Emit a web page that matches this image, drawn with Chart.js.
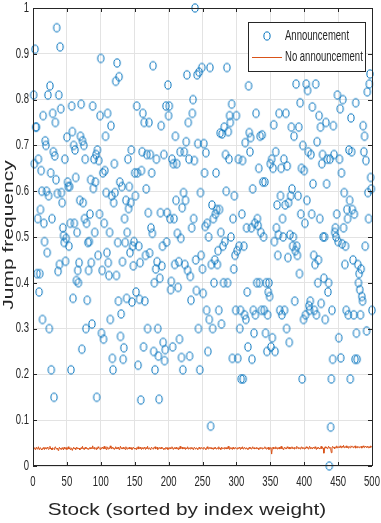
<!DOCTYPE html>
<html>
<head>
<meta charset="utf-8">
<script src="https://cdn.jsdelivr.net/npm/chart.js@4.4.0/dist/chart.umd.min.js"></script>
<style>
  html, body { margin: 0; padding: 0; background: #fff; }
  canvas { display: block; }
</style>
</head>
<body>
<canvas id="jumpChart" width="381" height="523"></canvas>
<script>
// jump frequency per stock, stocks 1..500 sorted by index weight
const announcement = [
  0.81,0.66,0.91,0.74,0.74,0.42,0.54,0.67,0.38,0.42,
  0.56,0.645,0.60,0.32,0.765,0.53,0.49,0.71,0.70,0.60,
  0.466,0.81,0.59,0.30,0.83,0.64,0.21,0.54,0.77,0.686,
  0.15,0.677,0.75,0.625,0.957,0.595,0.425,0.81,0.44,0.915,
  0.78,0.597,0.575,0.52,0.503,0.488,0.67,0.447,0.497,0.718,
  0.62,0.61,0.48,0.61,0.53,0.21,0.786,0.73,0.366,0.70,
  0.53,0.69,0.63,0.405,0.51,0.427,0.40,0.444,0.58,0.72,
  0.79,0.255,0.71,0.575,0.70,0.54,0.67,0.30,0.53,0.362,
  0.488,0.427,0.49,0.55,0.625,0.444,0.31,0.786,0.606,0.67,
  0.51,0.62,0.68,0.15,0.69,0.46,0.667,0.55,0.765,0.89,
  0.29,0.427,0.64,0.277,0.53,0.645,0.72,0.597,0.466,0.77,
  0.444,0.416,0.51,0.32,0.743,0.59,0.235,0.21,0.575,0.66,
  0.597,0.84,0.416,0.88,0.488,0.36,0.85,0.62,0.283,0.332,
  0.61,0.446,0.233,0.258,0.54,0.488,0.58,0.366,0.51,0.67,
  0.562,0.61,0.466,0.575,0.69,0.358,0.48,0.437,0.49,0.64,
  0.59,0.38,0.786,0.64,0.22,0.48,0.364,0.444,0.144,0.645,
  0.686,0.77,0.26,0.75,0.36,0.46,0.605,0.68,0.30,0.553,
  0.75,0.465,0.68,0.52,0.64,0.508,0.874,0.25,0.40,0.21,
  0.43,0.67,0.446,0.30,0.24,0.146,0.41,0.553,0.743,0.437,
  0.48,0.27,0.68,0.23,0.254,0.786,0.489,0.553,0.832,0.765,
  0.786,0.54,0.385,0.403,0.67,0.26,0.66,0.54,0.44,0.72,
  0.58,0.66,0.508,0.39,0.446,0.277,0.686,0.497,0.237,0.564,
  0.21,0.597,0.686,0.44,0.58,0.708,0.854,0.427,0.75,0.67,
  0.24,0.414,0.362,0.52,0.77,0.80,0.54,0.667,1.0,0.45,
  0.383,0.854,0.704,0.30,0.86,0.21,0.597,0.46,0.87,0.43,
  0.377,0.704,0.64,0.523,0.684,0.34,0.53,0.25,0.50,0.32,
  0.87,0.087,0.44,0.57,0.30,0.54,0.40,0.45,0.55,0.64,
  0.56,0.44,0.47,0.34,0.56,0.727,0.51,0.31,0.725,0.48,
  0.40,0.74,0.49,0.68,0.60,0.87,0.40,0.73,0.67,0.765,
  0.75,0.50,0.79,0.235,0.54,0.43,0.59,0.46,0.34,0.765,
  0.47,0.235,0.67,0.48,0.30,0.34,0.19,0.55,0.667,0.19,
  0.48,0.33,0.706,0.32,0.52,0.38,0.26,0.83,0.728,0.686,
  0.717,0.52,0.233,0.605,0.34,0.29,0.53,0.33,0.77,0.40,
  0.54,0.525,0.65,0.40,0.72,0.51,0.34,0.723,0.62,0.50,
  0.34,0.62,0.29,0.40,0.25,0.33,0.38,0.40,0.37,0.66,
  0.26,0.67,0.28,0.65,0.745,0.49,0.25,0.686,0.52,0.57,
  0.46,0.505,0.77,0.34,0.59,0.65,0.33,0.54,0.50,0.67,
  0.34,0.57,0.77,0.30,0.655,0.455,0.575,0.27,0.505,0.59,
  0.74,0.605,0.48,0.50,0.72,0.36,0.47,0.834,0.48,0.46,
  0.59,0.74,0.42,0.793,0.55,0.65,0.19,0.70,0.32,0.645,
  0.53,0.33,0.834,0.58,0.82,0.686,0.35,0.34,0.36,0.68,
  0.55,0.784,0.616,0.46,0.34,0.44,0.834,0.33,0.708,0.40,
  0.45,0.765,0.54,0.74,0.355,0.66,0.68,0.50,0.41,0.50,
  0.32,0.75,0.616,0.67,0.38,0.40,0.0,0.67,0.085,0.19,
  0.34,0.233,0.743,0.68,0.51,0.52,0.50,0.55,0.81,0.49,
  0.28,0.67,0.78,0.236,0.64,0.485,0.80,0.52,0.597,0.44,
  0.48,0.34,0.56,0.54,0.33,0.69,0.58,0.19,0.76,0.686,
  0.56,0.45,0.33,0.55,0.233,0.793,0.29,0.233,0.44,0.40,
  0.42,0.385,0.33,0.43,0.37,0.36,0.743,0.686,0.72,0.48,
  0.667,0.295,0.817,0.597,0.54,0.834,0.856,0.63,0.605,0.34
];

const noAnnouncement = [
  .038,.040,.036,.039,.041,.037,.038,.042,.036,.039,
  .040,.037,.035,.039,.038,.041,.036,.040,.038,.037,
  .041,.039,.036,.038,.043,.037,.039,.035,.040,.038,
  .036,.040,.042,.038,.037,.039,.034,.038,.041,.037,
  .039,.036,.040,.038,.035,.041,.038,.037,.040,.036,
  .038,.042,.037,.039,.036,.040,.038,.034,.039,.041,
  .037,.039,.036,.041,.038,.040,.037,.039,.035,.038,
  .040,.038,.043,.037,.039,.036,.041,.038,.040,.037,
  .039,.036,.038,.041,.037,.040,.038,.044,.039,.037,
  .041,.038,.036,.040,.037,.042,.039,.038,.036,.040,
  .038,.041,.039,.037,.043,.038,.040,.036,.042,.039,
  .037,.040,.038,.044,.039,.037,.041,.038,.040,.036,
  .039,.042,.037,.040,.038,.041,.036,.039,.043,.038,
  .040,.037,.041,.038,.039,.036,.042,.038,.037,.040,
  .038,.041,.037,.039,.040,.036,.038,.041,.039,.037,
  .039,.036,.040,.038,.042,.037,.039,.041,.038,.036,
  .040,.038,.037,.041,.039,.036,.040,.038,.043,.037,
  .038,.040,.036,.039,.041,.038,.037,.040,.039,.042,
  .037,.039,.041,.036,.038,.040,.039,.037,.041,.038,
  .040,.038,.036,.039,.037,.041,.038,.040,.036,.039,
  .038,.041,.037,.039,.042,.038,.036,.040,.039,.037,
  .041,.038,.039,.036,.040,.037,.043,.038,.039,.041,
  .037,.040,.038,.041,.036,.039,.038,.042,.037,.040,
  .039,.037,.041,.038,.040,.036,.039,.041,.038,.037,
  .040,.038,.036,.039,.041,.038,.037,.040,.039,.038,
  .037,.041,.039,.038,.036,.040,.042,.038,.037,.039,
  .041,.038,.040,.037,.039,.036,.040,.038,.041,.037,
  .038,.040,.037,.042,.038,.039,.036,.041,.038,.040,
  .039,.037,.041,.038,.040,.037,.039,.043,.038,.036,
  .040,.038,.039,.036,.041,.038,.037,.040,.039,.038,
  .037,.040,.038,.041,.039,.036,.040,.038,.042,.037,
  .039,.041,.038,.037,.040,.038,.036,.039,.041,.038,
  .040,.037,.039,.042,.038,.040,.037,.039,.038,.041,
  .038,.039,.036,.040,.038,.041,.039,.037,.040,.038,
  .039,.042,.038,.037,.040,.038,.041,.036,.039,.040,
  .038,.026,.039,.041,.037,.040,.038,.042,.039,.037,
  .040,.038,.041,.037,.039,.043,.038,.040,.036,.039,
  .041,.038,.040,.037,.042,.039,.038,.041,.037,.040,
  .039,.042,.038,.040,.037,.041,.039,.038,.043,.040,
  .038,.041,.039,.037,.040,.042,.038,.041,.039,.037,
  .040,.038,.042,.039,.041,.037,.040,.043,.038,.041,
  .039,.037,.041,.040,.038,.042,.039,.036,.040,.038,
  .041,.039,.037,.040,.043,.038,.041,.039,.028,.040,
  .042,.039,.041,.038,.040,.043,.039,.041,.038,.029,
  .040,.043,.039,.041,.038,.042,.040,.044,.039,.041,
  .042,.040,.044,.041,.039,.043,.041,.045,.040,.042,
  .041,.044,.040,.042,.039,.043,.041,.040,.044,.042,
  .043,.040,.042,.041,.044,.039,.042,.040,.043,.041,
  .040,.042,.041,.043,.039,.042,.044,.041,.040,.043,
  .042,.040,.043,.041,.039,.042,.040,.044,.041,.043
];

const seriesNames = ['Announcement', 'No announcement'];
const xTickValues = [0, 50, 100, 150, 200, 250, 300, 350, 400, 450, 500];
const xTickLabels = ['0', '50', '100', '150', '200', '250', '300', '350', '400', '450', '500'];
const yTickValues = [0, 0.1, 0.2, 0.3, 0.4, 0.5, 0.6, 0.7, 0.8, 0.9, 1];
const yTickLabels = ['0', '0.1', '0.2', '0.3', '0.4', '0.5', '0.6', '0.7', '0.8', '0.9', '1'];
const xTitle = 'Stock (sorted by index weight)';
const yTitle = 'Jump frequency';

const blue = '#0072BD';
const orange = '#D95319';
const axisColor = '#262626';
const fontFamily = "'Liberation Sans', Arial, sans-serif";
const squeeze = 0.68;   // figure was stretched vertically, text looks narrow

// open circle marker, taller than wide like in the picture
function makeMarker() {
    const c = document.createElement('canvas');
    c.width = 10; c.height = 12;
    const g = c.getContext('2d');
    g.strokeStyle = blue;
    g.lineWidth = 1;
    g.beginPath();
    g.ellipse(5, 6, 3.1, 4.1, 0, 0, Math.PI * 2);
    g.stroke();
    return c;
}
const marker = makeMarker();

// sx scales along the reading direction, sy across it
function drawText(ctx, text, x, y, size, align, vertical, sx = squeeze, sy = 1) {
    ctx.save();
    ctx.translate(x, y);
    if (vertical) ctx.rotate(-Math.PI / 2);
    ctx.scale(sx, sy);
    ctx.font = size + 'px ' + fontFamily;
    ctx.fillStyle = axisColor;
    ctx.textAlign = align;
    ctx.textBaseline = 'middle';
    ctx.fillText(text, 0, 0);
    ctx.restore();
}

// box, inward ticks, labels and legend drawn matlab style
const matlabAxes = {
    id: 'matlabAxes',
    afterDraw(chart) {
        const {ctx, chartArea: a, scales: {x, y}} = chart;
        const tl = 4;
        ctx.save();
        ctx.strokeStyle = axisColor;
        ctx.lineWidth = 1;
        ctx.beginPath();
        x.ticks.forEach(t => {
            const px = Math.round(x.getPixelForValue(t.value)) + 0.5;
            ctx.moveTo(px, a.bottom); ctx.lineTo(px, a.bottom - tl);
            ctx.moveTo(px, a.top); ctx.lineTo(px, a.top + tl);
        });
        y.ticks.forEach(t => {
            const py = Math.round(y.getPixelForValue(t.value)) + 0.5;
            ctx.moveTo(a.left, py); ctx.lineTo(a.left + tl, py);
            ctx.moveTo(a.right, py); ctx.lineTo(a.right - tl, py);
        });
        ctx.stroke();
        ctx.strokeRect(a.left + 0.5, a.top + 0.5, a.right - a.left, a.bottom - a.top - 1);

        // tick labels
        x.ticks.forEach((t, i) => {
            drawText(ctx, xTickLabels[i], x.getPixelForValue(t.value), a.bottom + 16, 14, 'center');
        });
        y.ticks.forEach((t, i) => {
            drawText(ctx, yTickLabels[i], a.left - 4, y.getPixelForValue(t.value), 14, 'right');
        });

        // axis titles
        drawText(ctx, xTitle, 187, 510, 16.5, 'center', false, 1.26, 1);
        drawText(ctx, yTitle, 9, 235, 21, 'center', true, 1, 0.72);

        // legend box in the top right corner
        const lx = 248, ly = 22, lw = 117, lh = 49;
        ctx.fillStyle = '#fff';
        ctx.fillRect(lx, ly, lw, lh);
        ctx.strokeStyle = axisColor;
        ctx.strokeRect(lx + 0.5, ly + 0.5, lw, lh);
        const ds = chart.data.datasets;
        ctx.drawImage(marker, 267 - 5, 36 - 6);
        ctx.strokeStyle = ds[1].borderColor;
        ctx.beginPath();
        ctx.moveTo(252, 57.5); ctx.lineTo(282, 57.5);
        ctx.stroke();
        drawText(ctx, ds[0].label, 285, 36, 14, 'left');
        drawText(ctx, ds[1].label, 285, 57, 14, 'left');
        ctx.restore();
    }
};

const ctx = document.getElementById('jumpChart').getContext('2d');
const chart = new Chart(ctx, {
    type: 'scatter',
    data: {
        datasets: [
            {
                label: seriesNames[0],
                data: announcement.map((v, i) => ({x: i + 1, y: v})),
                pointStyle: marker,
                pointRadius: 4,
                borderColor: blue,
                backgroundColor: blue,
                showLine: false,
                clip: false,
                order: 2
            },
            {
                label: seriesNames[1],
                data: noAnnouncement.map((v, i) => ({x: i + 1, y: v})),
                showLine: true,
                borderColor: orange,
                borderWidth: 1,
                pointRadius: 0,
                tension: 0,
                order: 1
            }
        ]
    },
    options: {
        responsive: false,
        animation: false,
        devicePixelRatio: 1,
        layout: {
            autoPadding: false,
            padding: {top: 8, right: 9, left: 0, bottom: 0}
        },
        plugins: {
            legend: {display: false},
            tooltip: {enabled: false}
        },
        scales: {
            x: {
                type: 'linear',
                min: 0,
                max: 500,
                afterBuildTicks: s => { s.ticks = xTickValues.map(v => ({value: v})); },
                afterFit: s => { s.height = 57; },
                ticks: {display: false},
                grid: {color: '#e3e3e3', drawTicks: false},
                border: {display: false}
            },
            y: {
                type: 'linear',
                min: 0,
                max: 1,
                afterBuildTicks: s => { s.ticks = yTickValues.map(v => ({value: v})); },
                afterFit: s => { s.width = 33; },
                ticks: {display: false},
                grid: {color: '#e3e3e3', drawTicks: false},
                border: {display: false}
            }
        }
    },
    plugins: [matlabAxes]
});
</script>
</body>
</html>
